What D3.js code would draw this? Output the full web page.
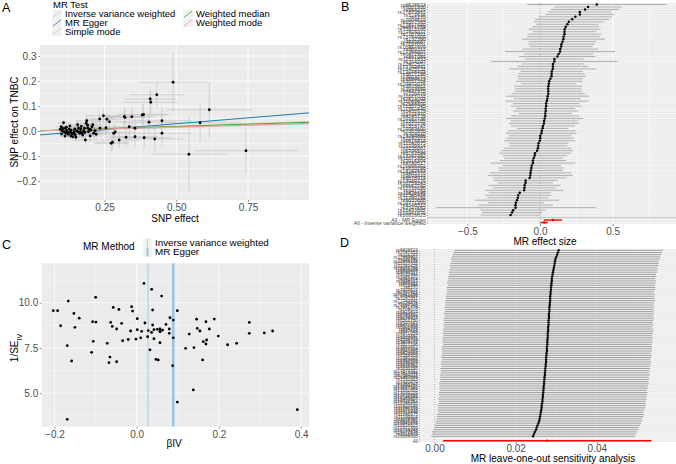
<!DOCTYPE html>
<html>
<head>
<meta charset="utf-8">
<script src="https://cdn.jsdelivr.net/npm/d3@7"></script>
<style>
  body { margin: 0; background: #fff; }
  svg { display: block; }
</style>
</head>
<body>
<div id="chart"></div>
<script>
// ---- data ----
const snpIds = ["rs10069690","rs1011970","rs10472076","rs10759243","rs10771399","rs10816625","rs10941679","rs10995201","rs11075995","rs11199914",
  "rs11242675","rs11552449","rs11571833","rs11780156","rs11820646","rs12048493","rs12422552","rs12493607","rs12546444","rs12710696",
  "rs13039229","rs13162653","rs13267382","rs13294895","rs1353747","rs1432679","rs1550623","rs16857609","rs17529111","rs17817449",
  "rs17879961","rs1830298","rs2016394","rs2236007","rs2290203","rs2363956","rs2380205","rs2588809","rs2823093","rs2943559",
  "rs3057314","rs3803662","rs3817198","rs3903072","rs4245739","rs4442975","rs4849887","rs4971059","rs527616","rs554219",
  "rs6001930","rs6472903","rs6507583","rs6562760","rs6678914","rs6762644","rs6796502","rs6815814","rs704010","rs7072776",
  "rs71557345","rs720475","rs72749841","rs7297051","rs73754909","rs75915166","rs7707921","rs7904519","rs8170","rs851984",
  "rs889312","rs9348512","rs941764","rs9485370","rs9693444","rs9790517","rs9833888","rs10162736","rs11049425","rs11627032",
  "rs12405132","rs132390","rs17356907","rs204247","rs2747652","rs6828523"];

// panel A: SNP effects on exposure (x) and outcome (y) with standard errors
const snpBx = [0.489,0.432,0.409,0.411,0.615,0.246,0.319,0.321,0.345,0.381,0.386,0.233,0.258,0.267,0.450,0.405,0.583,0.336,0.356,0.287,
  0.282,0.450,0.356,0.325,0.388,0.425,0.301,0.278,0.273,0.544,0.743,
  0.096,0.099,0.102,0.107,0.109,0.113,0.116,0.118,0.124,0.127,0.131,0.133,0.139,0.142,0.144,0.148,0.153,0.156,0.159,0.163,
  0.165,0.167,0.171,0.177,0.180,0.183,0.186,0.188,0.191,0.194,0.198,0.202,0.206,0.212,0.217,0.234,0.255,
  0.100,0.105,0.112,0.117,0.121,0.129,0.133,0.136,0.146,0.150,0.158,0.169,0.174,0.181,0.191,0.200,0.209,0.221];
const snpBy = [0.195,0.145,0.128,0.115,0.085,0.061,0.058,0.054,0.057,0.064,0.066,0.048,0.047,0.037,0.041,0.035,0.033,0.017,0.011,-0.004,
  -0.009,-0.009,-0.023,-0.025,-0.027,-0.032,-0.036,-0.045,-0.049,-0.093,-0.079,
  0.007,0.017,0.001,0.033,-0.003,0.011,-0.009,0.001,-0.013,0.007,-0.005,-0.020,-0.023,-0.009,-0.003,-0.015,0.001,0.025,0.012,-0.009,
  -0.005,0.007,-0.009,0.000,0.011,-0.036,0.031,0.041,0.023,-0.003,0.007,0.004,0.017,-0.009,0.001,0.011,0.013,
  -0.012,0.010,-0.020,0.015,-0.005,0.020,0.003,-0.011,0.008,-0.025,-0.003,0.018,-0.016,-0.006,0.012,-0.020,0.025,-0.013];
const snpSeX = [0.120,0.095,0.090,0.095,0.150,0.057,0.075,0.071,0.080,0.085,0.090,0.052,0.057,0.061,0.104,0.094,0.142,0.076,0.080,0.066,
  0.061,0.104,0.080,0.076,0.090,0.099,0.066,0.061,0.061,0.132,0.180,
  0.016,0.017,0.018,0.019,0.020,0.021,0.021,0.022,0.024,0.024,0.025,0.025,0.026,0.027,0.028,0.029,0.030,0.031,0.032,0.033,
  0.034,0.034,0.035,0.037,0.038,0.038,0.039,0.040,0.041,0.042,0.043,0.043,0.044,0.045,0.047,0.052,0.057,
  0.017,0.018,0.020,0.022,0.023,0.025,0.025,0.026,0.028,0.030,0.032,0.035,0.036,0.038,0.041,0.042,0.045,0.048];
const snpSeY = [0.118,0.050,0.047,0.045,0.110,0.030,0.036,0.035,0.040,0.042,0.044,0.025,0.028,0.030,0.052,0.047,0.075,0.038,0.040,0.032,
  0.031,0.053,0.041,0.037,0.045,0.050,0.034,0.031,0.033,0.152,0.090,
  0.011,0.011,0.012,0.012,0.012,0.013,0.013,0.013,0.014,0.014,0.015,0.015,0.016,0.016,0.016,0.017,0.017,0.018,0.018,0.019,
  0.019,0.019,0.020,0.020,0.021,0.021,0.021,0.022,0.022,0.022,0.023,0.023,0.024,0.024,0.025,0.027,0.029,
  0.011,0.012,0.013,0.013,0.014,0.015,0.015,0.015,0.016,0.017,0.018,0.019,0.020,0.021,0.022,0.023,0.024,0.025];

// MR test lines (panel A)
const mrTests = ["Inverse variance weighted","MR Egger","Simple mode","Weighted median","Weighted mode"];
const mrTestColors = ["#a6cee3","#1f78b4","#b2df8a","#33a02c","#fb9a99"];
const mrTestSlope = [0.029, 0.094, 0.039, 0.036, 0.032];
const mrTestIntercept = [0, -0.018, 0, 0, 0];

// single SNP Wald ratios (panels B and C)
const ivB = [0.0178,0.0364,0.0607,-0.0998,-0.1663,-0.2028,-0.1923,-0.0569,-0.0431,-0.0122,-0.0098,0.0389,0.0989,-0.1526,-0.1396,0.081,0.0891,-0.185,-0.1501,-0.1071,
  -0.099,-0.0633,-0.0366,0.0015,0.0202,0.0389,0.0713,0.1459,0.1686,0.1889,0.274,-0.0593,-0.0487,-0.0147,0.0015,0.0121,0.0283,0.0421,0.0502,0.0567,
  0.0632,0.0575,0.0794,0.0794,0.0364,0.0567,0.154,0.1767,0.274,0.3105,0.3308,0.128,0.1986,-0.1055,-0.0715,-0.0341,-0.0204,-0.0017,0.0097,0.0267,
  0.0421,0.0567,0.0891,0.1475,0.1621,0.1702,0.1686,0.2213,0.2432,0.1191,0.1394,-0.1688,-0.1096,-0.065,-0.0674,-0.0487,-0.1582,0.0324,0.047,0.0526,
  0.0875,0.1605,0.1378,0.0989,-0.1688,0.3908];
const ivInvSe = [11.07,10.74,10.37,10.30,10.09,9.56,9.56,9.74,9.63,9.78,9.54,9.60,9.56,9.41,9.15,9.17,9.04,8.73,8.64,8.95,
  8.93,8.91,8.86,9.12,8.88,8.77,8.80,9.09,8.95,9.10,8.91,8.69,8.55,8.44,8.51,8.42,8.46,8.51,8.53,8.55,
  8.49,8.42,8.55,8.31,8.36,8.40,8.44,8.55,8.31,8.33,8.44,8.27,8.16,7.87,7.76,7.90,7.97,7.99,8.06,8.12,
  8.01,7.79,8.06,8.58,7.85,7.94,7.72,7.68,7.76,7.48,7.52,7.63,7.26,7.00,6.69,6.74,6.78,7.40,6.87,6.84,
  6.52,6.84,5.18,4.51,3.56,4.09];

// pooled estimates
const summaryMethods = ["Inverse variance weighted","MR Egger"];
const summaryB = [0.0278, 0.089];
const summarySe = [0.0131, 0.032];

// leave-one-out estimates (panel D), ascending
const looB = [0.0243,0.0245,0.0247,0.0250,0.0252,0.0254,0.0256,0.0258,0.0259,0.0260,
  0.0261,0.0262,0.0263,0.0264,0.0264,0.0265,0.0266,0.0266,0.0267,0.0267,
  0.0268,0.0268,0.0269,0.0269,0.0270,0.0270,0.0271,0.0271,0.0272,0.0272,
  0.0273,0.0273,0.0274,0.0274,0.0275,0.0275,0.0275,0.0276,0.0276,0.0277,
  0.0277,0.0277,0.0278,0.0278,0.0278,0.0279,0.0279,0.0279,0.0280,0.0280,
  0.0280,0.0281,0.0281,0.0281,0.0282,0.0282,0.0282,0.0283,0.0283,0.0283,
  0.0284,0.0284,0.0285,0.0285,0.0285,0.0286,0.0286,0.0287,0.0287,0.0288,
  0.0288,0.0289,0.0289,0.0290,0.0291,0.0292,0.0293,0.0294,0.0295,0.0296,
  0.0297,0.0298,0.0300,0.0302,0.0304,0.0306];
const looSe = [0.0128,0.0128,0.0129,0.0129,0.0128,0.0129,0.0129,0.0130,0.0129,0.0130,
  0.0130,0.0129,0.0130,0.0130,0.0131,0.0130,0.0130,0.0131,0.0130,0.0131,
  0.0131,0.0130,0.0131,0.0131,0.0132,0.0131,0.0131,0.0131,0.0132,0.0131,
  0.0131,0.0132,0.0131,0.0132,0.0132,0.0131,0.0132,0.0132,0.0131,0.0132,
  0.0132,0.0132,0.0131,0.0132,0.0132,0.0132,0.0131,0.0132,0.0132,0.0132,
  0.0131,0.0132,0.0131,0.0132,0.0132,0.0131,0.0132,0.0131,0.0131,0.0132,
  0.0131,0.0131,0.0132,0.0131,0.0131,0.0131,0.0130,0.0131,0.0131,0.0130,
  0.0131,0.0131,0.0130,0.0131,0.0130,0.0131,0.0131,0.0130,0.0131,0.0131,
  0.0130,0.0131,0.0131,0.0131,0.0131,0.0131];

// ---- drawing ----
const FONT = '"Liberation Sans", Arial, Helvetica, sans-serif';
const svg = d3.select("#chart").append("svg")
  .attr("width", 676).attr("height", 464)
  .style("font-family", FONT);
svg.append("rect").attr("width", 676).attr("height", 464).attr("fill", "#fff");

let clipCount = 0;
function makePanel(x0, y0, x1, y1) {
  const id = "clip" + (clipCount++);
  svg.append("clipPath").attr("id", id)
     .append("rect").attr("x", x0).attr("y", y0).attr("width", x1 - x0).attr("height", y1 - y0);
  svg.append("rect").attr("x", x0).attr("y", y0).attr("width", x1 - x0).attr("height", y1 - y0)
     .attr("fill", "#ebebeb");
  return svg.append("g").attr("clip-path", `url(#${id})`);
}
function gridX(g, scale, vals, y0, y1, w) {
  g.append("g").selectAll("line").data(vals).enter().append("line")
   .attr("x1", d => scale(d)).attr("x2", d => scale(d))
   .attr("y1", y0).attr("y2", y1)
   .attr("stroke", "#fff").attr("stroke-width", w);
}
function gridY(g, scale, vals, x0, x1, w) {
  g.append("g").selectAll("line").data(vals).enter().append("line")
   .attr("y1", d => scale(d)).attr("y2", d => scale(d))
   .attr("x1", x0).attr("x2", x1)
   .attr("stroke", "#fff").attr("stroke-width", w);
}
function styleAxis(sel, fs) {
  sel.attr("font-family", FONT).attr("font-size", fs);
  sel.select(".domain").remove();
  sel.selectAll(".tick line").attr("stroke", "#333").attr("stroke-width", 0.5);
  sel.selectAll(".tick text").attr("fill", "#4d4d4d");
}
function title(x, y, txt, size, rotate) {
  const t = svg.append("text")
    .attr("text-anchor", "middle")
    .style("font-size", size + "px")
    .attr("fill", "#000");
  if (rotate) t.attr("transform", `translate(${x},${y}) rotate(-90)`);
  else t.attr("x", x).attr("y", y);
  t.text(txt);
  return t;
}
function letter(x, y, txt) {
  svg.append("text").attr("x", x).attr("y", y)
     .style("font-size", "12.5px").attr("fill", "#000").text(txt);
}

// ================= Panel A =================
const aL = 40, aR = 309, aT = 45, aB = 200;
const xA = d3.scaleLinear().domain([0.025, 0.9625]).range([aL, aR]);
const yA = d3.scaleLinear().domain([0.344, -0.276]).range([aT, aB]);
const gA = makePanel(aL, aT, aR, aB);
gridX(gA, xA, [0.125, 0.375, 0.625, 0.875], aT, aB, 0.4);
gridY(gA, yA, [-0.25, -0.15, -0.05, 0.05, 0.15, 0.25], aL, aR, 0.4);
gridX(gA, xA, [0.25, 0.5, 0.75], aT, aB, 0.8);
gridY(gA, yA, [-0.2, -0.1, 0, 0.1, 0.2, 0.3], aL, aR, 0.8);

const aIdx = d3.range(snpBx.length);
gA.append("g").selectAll("line").data(aIdx).enter().append("line")
  .attr("x1", i => xA(snpBx[i])).attr("x2", i => xA(snpBx[i]))
  .attr("y1", i => yA(snpBy[i] - snpSeY[i])).attr("y2", i => yA(snpBy[i] + snpSeY[i]))
  .attr("stroke", "#bebebe").attr("stroke-width", 0.6);
gA.append("g").selectAll("line").data(aIdx).enter().append("line")
  .attr("y1", i => yA(snpBy[i])).attr("y2", i => yA(snpBy[i]))
  .attr("x1", i => xA(snpBx[i] - snpSeX[i])).attr("x2", i => xA(snpBx[i] + snpSeX[i]))
  .attr("stroke", "#bebebe").attr("stroke-width", 0.6);

const xa0 = xA.domain()[0], xa1 = xA.domain()[1];
gA.append("g").selectAll("line").data(mrTests.map((m, i) => i)).enter().append("line")
  .attr("x1", xA(xa0)).attr("x2", xA(xa1))
  .attr("y1", i => yA(mrTestIntercept[i] + mrTestSlope[i] * xa0))
  .attr("y2", i => yA(mrTestIntercept[i] + mrTestSlope[i] * xa1))
  .attr("stroke", i => mrTestColors[i]).attr("stroke-width", 1);

gA.append("g").selectAll("circle").data(aIdx).enter().append("circle")
  .attr("cx", i => xA(snpBx[i])).attr("cy", i => yA(snpBy[i]))
  .attr("r", 1.4).attr("fill", "#000");

svg.append("g").attr("transform", `translate(0,${aB})`)
  .call(d3.axisBottom(xA).tickValues([0.25, 0.5, 0.75]).tickFormat(d3.format(".2f")).tickSize(2).tickPadding(2))
  .call(s => styleAxis(s, 10));
svg.append("g").attr("transform", `translate(${aL},0)`)
  .call(d3.axisLeft(yA).tickValues([-0.2, -0.1, 0, 0.1, 0.2, 0.3]).tickFormat(d3.format(".1f")).tickSize(2).tickPadding(1.5))
  .call(s => styleAxis(s, 10));
title(175, 221.5, "SNP effect", 10);
title(18, 122, "SNP effect on TNBC", 10, true);

// legend A
svg.append("text").attr("x", 53).attr("y", 8).style("font-size", "9.5px").text("MR Test");
const legA = svg.append("g");
mrTests.forEach((m, i) => {
  const col = i < 3 ? 0 : 1, row = i % 3;
  const kx = col === 0 ? 52 : 183, ky = 10 + row * 8.6;
  legA.append("rect").attr("x", kx).attr("y", ky).attr("width", 10).attr("height", 8.6).attr("fill", "#f2f2f2");
  legA.append("line").attr("x1", kx + 1).attr("y1", ky + 7.6).attr("x2", kx + 9).attr("y2", ky + 1)
      .attr("stroke", mrTestColors[i]).attr("stroke-width", 0.8);
  legA.append("text").attr("x", kx + 13).attr("y", ky + 7.4).style("font-size", "9.5px").text(m);
});
letter(2, 12, "A");

// ================= Panel B =================
const bL = 428, bR = 676, bT = 3, bB = 224;
const xB = d3.scaleLinear().domain([-0.771, 0.936]).range([bL, bR]);
const bOrder = d3.range(ivB.length).sort((a, b) => ivB[b] - ivB[a]);
const allLabels = ["All - MR Egger", "All - Inverse variance weighted"];
const allIdx = [1, 0]; // index into summary arrays
const bLevels = bOrder.map(i => snpIds[i]).concat([""], allLabels);
const yB = d3.scalePoint().domain(bLevels).range([bT, bB]).padding(0.6);
const gB = makePanel(bL, bT, bR, bB);
gridX(gB, xB, [-0.75, -0.25, 0.25, 0.75], bT, bB, 0.4);
gridX(gB, xB, [-0.5, 0, 0.5], bT, bB, 0.8);
gridY(gB, yB, bLevels, bL, bR, 0.5);
gB.append("line").attr("x1", xB(0)).attr("x2", xB(0)).attr("y1", bT).attr("y2", bB)
  .attr("stroke", "#555").attr("stroke-width", 0.5).attr("stroke-dasharray", "1,1.5");
gB.append("line").attr("x1", bL).attr("x2", bR).attr("y1", yB("")).attr("y2", yB(""))
  .attr("stroke", "#bebebe").attr("stroke-width", 0.8);
gB.append("g").selectAll("line").data(bOrder).enter().append("line")
  .attr("x1", i => xB(ivB[i] - 1.96 / ivInvSe[i])).attr("x2", i => xB(ivB[i] + 1.96 / ivInvSe[i]))
  .attr("y1", i => yB(snpIds[i])).attr("y2", i => yB(snpIds[i]))
  .attr("stroke", "#a0a0a0").attr("stroke-width", 0.8);
gB.append("g").selectAll("circle").data(bOrder).enter().append("circle")
  .attr("cx", i => xB(ivB[i])).attr("cy", i => yB(snpIds[i]))
  .attr("r", 1.25).attr("fill", "#000");
allLabels.forEach((lab, k) => {
  const j = allIdx[k];
  gB.append("line")
    .attr("x1", xB(summaryB[j] - 1.96 * summarySe[j])).attr("x2", xB(summaryB[j] + 1.96 * summarySe[j]))
    .attr("y1", yB(lab)).attr("y2", yB(lab))
    .attr("stroke", "#ff0000").attr("stroke-width", 1.4);
  gB.append("circle").attr("cx", xB(summaryB[j])).attr("cy", yB(lab)).attr("r", 1.3).attr("fill", "#ff0000");
});
svg.append("g").attr("transform", `translate(0,${bB})`)
  .call(d3.axisBottom(xB).tickValues([-0.5, 0, 0.5]).tickFormat(d3.format(".1f")).tickSize(2).tickPadding(1.5))
  .call(s => styleAxis(s, 10));
svg.append("g").attr("transform", `translate(${bL},0)`)
  .call(d3.axisLeft(yB).tickSize(1.2).tickPadding(1))
  .call(s => styleAxis(s, 5.3));
title(545, 244.5, "MR effect size", 10);
letter(341, 11, "B");

// ================= Panel C =================
const cL = 41.7, cR = 309.3, cT = 263.3, cB = 426.7;
const xC = d3.scaleLinear().domain([-0.231, 0.42]).range([cL, cR]);
const yC = d3.scaleLinear().domain([12.18, 3.15]).range([cT, cB]);
const gC = makePanel(cL, cT, cR, cB);
gridX(gC, xC, [-0.1, 0.1, 0.3], cT, cB, 0.4);
gridY(gC, yC, [3.75, 6.25, 8.75, 11.25], cL, cR, 0.4);
gridX(gC, xC, [-0.2, 0, 0.2, 0.4], cT, cB, 0.8);
gridY(gC, yC, [5, 7.5, 10], cL, cR, 0.8);
const cLineColor = ["#a6cee3", "#9dc3e2"];
const cLineWidth = [1, 2.6];
summaryMethods.forEach((m, j) => {
  gC.append("line").attr("x1", xC(summaryB[j])).attr("x2", xC(summaryB[j])).attr("y1", cT).attr("y2", cB)
    .attr("stroke", cLineColor[j]).attr("stroke-width", cLineWidth[j]);
});
gC.append("g").selectAll("circle").data(d3.range(ivB.length)).enter().append("circle")
  .attr("cx", i => xC(ivB[i])).attr("cy", i => yC(ivInvSe[i]))
  .attr("r", 1.4).attr("fill", "#000");
svg.append("g").attr("transform", `translate(0,${cB})`)
  .call(d3.axisBottom(xC).tickValues([-0.2, 0, 0.2, 0.4]).tickFormat(d3.format(".1f")).tickSize(2).tickPadding(2.5))
  .call(s => styleAxis(s, 10));
svg.append("g").attr("transform", `translate(${cL},0)`)
  .call(d3.axisLeft(yC).tickValues([5, 7.5, 10]).tickFormat(d3.format(".1f")).tickSize(2).tickPadding(1.5))
  .call(s => styleAxis(s, 10));
title(174, 447, "βIV", 10);
const cy = title(18, 348, "", 10, true);
cy.append("tspan").text("1/SE");
cy.append("tspan").attr("baseline-shift", "sub").style("font-size", "7px").text("IV");

// legend C
svg.append("text").attr("x", 83).attr("y", 249.5).style("font-size", "10px").text("MR Method");
summaryMethods.forEach((m, j) => {
  const ky = 238.5 + j * 9;
  svg.append("rect").attr("x", 143).attr("y", ky).attr("width", 9).attr("height", 9).attr("fill", "#f2f2f2");
  svg.append("line").attr("x1", 147.5).attr("x2", 147.5).attr("y1", ky).attr("y2", ky + 9)
     .attr("stroke", cLineColor[j]).attr("stroke-width", cLineWidth[j] * 0.8);
  svg.append("text").attr("x", 155).attr("y", ky + 7.6).style("font-size", "9.8px").text(m);
});
letter(2, 249, "C");

// ================= Panel D =================
const dL = 420, dR = 676, dT = 249, dB = 442;
const xD = d3.scaleLinear().domain([-0.00357, 0.0595]).range([dL, dR]);
const dOrder = d3.range(looB.length).sort((a, b) => looB[b] - looB[a] || b - a);
const dLevels = dOrder.map(i => snpIds[i]).concat(["", "All"]);
const yD = d3.scalePoint().domain(dLevels).range([dT, dB]).padding(0.6);
const gD = makePanel(dL, dT, dR, dB);
gridX(gD, xD, [0.01, 0.03, 0.05], dT, dB, 0.4);
gridX(gD, xD, [0, 0.02, 0.04], dT, dB, 0.8);
gridY(gD, yD, dLevels, dL, dR, 0.5);
gD.append("line").attr("x1", xD(0)).attr("x2", xD(0)).attr("y1", dT).attr("y2", dB)
  .attr("stroke", "#555").attr("stroke-width", 0.5).attr("stroke-dasharray", "1,1.5");
gD.append("g").selectAll("line").data(dOrder).enter().append("line")
  .attr("x1", i => xD(looB[i] - 1.96 * looSe[i])).attr("x2", i => xD(looB[i] + 1.96 * looSe[i]))
  .attr("y1", i => yD(snpIds[i])).attr("y2", i => yD(snpIds[i]))
  .attr("stroke", "#a0a0a0").attr("stroke-width", 1);
gD.append("g").selectAll("circle").data(dOrder).enter().append("circle")
  .attr("cx", i => xD(looB[i])).attr("cy", i => yD(snpIds[i]))
  .attr("r", 1.2).attr("fill", "#000");
gD.append("line")
  .attr("x1", xD(summaryB[0] - 1.96 * summarySe[0])).attr("x2", xD(summaryB[0] + 1.96 * summarySe[0]))
  .attr("y1", yD("All")).attr("y2", yD("All"))
  .attr("stroke", "#ff0000").attr("stroke-width", 1.4);
gD.append("circle").attr("cx", xD(summaryB[0])).attr("cy", yD("All")).attr("r", 1.2).attr("fill", "#ff0000");
svg.append("g").attr("transform", `translate(0,${dB})`)
  .call(d3.axisBottom(xD).tickValues([0, 0.02, 0.04]).tickFormat(d3.format(".2f")).tickSize(2).tickPadding(1))
  .call(s => styleAxis(s, 10));
svg.append("g").attr("transform", `translate(${dL},0)`)
  .call(d3.axisLeft(yD).tickSize(1.2).tickPadding(1))
  .call(s => styleAxis(s, 4.6));
title(553, 462, "MR leave-one-out sensitivity analysis", 10);
letter(340, 247, "D");
</script>
</body>
</html>
